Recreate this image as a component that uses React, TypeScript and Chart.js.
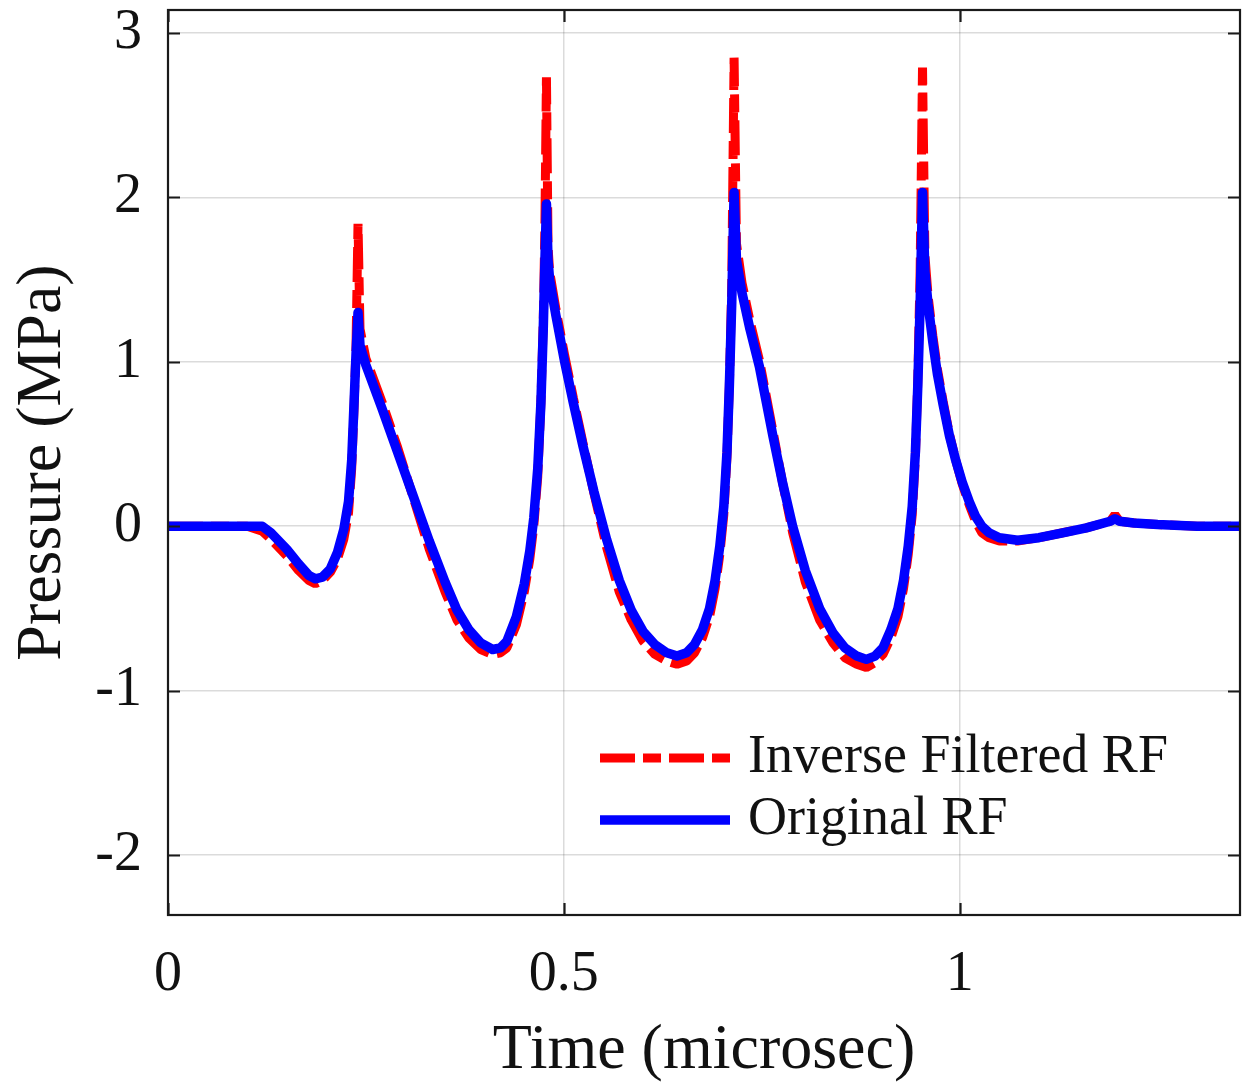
import React, { useEffect, useRef } from 'react';
import { Chart, registerables } from 'chart.js';

Chart.register(...registerables);

// Time axis (microsec)
const TIME = [
  0.000, 0.060, 0.100, 0.119, 0.130, 0.150, 0.165, 0.178, 0.186, 0.195,
  0.205, 0.214, 0.222, 0.228, 0.232, 0.235, 0.2375, 0.240, 0.2425, 0.250,
  0.270, 0.290, 0.310, 0.330, 0.350, 0.365, 0.380, 0.395, 0.410, 0.420,
  0.428, 0.440, 0.450, 0.457, 0.462, 0.467, 0.471, 0.474, 0.476, 0.478,
  0.480, 0.482, 0.490, 0.501, 0.512, 0.524, 0.538, 0.554, 0.570, 0.585,
  0.600, 0.615, 0.630, 0.643, 0.655, 0.665, 0.675, 0.684, 0.691, 0.697,
  0.702, 0.706, 0.709, 0.712, 0.715, 0.718, 0.725, 0.735, 0.747, 0.764,
  0.776, 0.789, 0.805, 0.823, 0.840, 0.855, 0.870, 0.882, 0.893, 0.903,
  0.913, 0.922, 0.929, 0.935, 0.940, 0.944, 0.947, 0.950, 0.953, 0.956,
  0.960, 0.966, 0.972, 0.979, 0.987, 0.995, 1.003, 1.012, 1.020, 1.028,
  1.037, 1.050, 1.073, 1.100, 1.130, 1.160, 1.190, 1.196, 1.202, 1.220,
  1.250, 1.300, 1.354,
];

// Original RF pressure (MPa)
const ORIGINAL_RF = [
  0, 0, 0, 0, -0.04, -0.14, -0.23, -0.30, -0.32, -0.31,
  -0.26, -0.16, -0.02, 0.15, 0.40, 0.75, 1.05, 1.30, 1.10, 0.98,
  0.72, 0.45, 0.18, -0.09, -0.34, -0.51, -0.63, -0.71, -0.75, -0.74,
  -0.70, -0.55, -0.35, -0.15, 0.05, 0.35, 0.75, 1.20, 1.60, 1.96,
  1.62, 1.50, 1.28, 1.00, 0.75, 0.49, 0.21, -0.08, -0.33, -0.51,
  -0.64, -0.72, -0.77, -0.79, -0.77, -0.72, -0.63, -0.50, -0.33, -0.12,
  0.12, 0.45, 0.85, 1.35, 2.03, 1.62, 1.42, 1.20, 0.97, 0.55,
  0.27, 0.0, -0.27, -0.50, -0.65, -0.74, -0.79, -0.81, -0.79, -0.74,
  -0.63, -0.50, -0.33, -0.12, 0.12, 0.45, 0.85, 1.35, 2.03, 1.55,
  1.35, 1.12, 0.92, 0.74, 0.55, 0.40, 0.27, 0.15, 0.06, 0.0,
  -0.04, -0.07, -0.085, -0.07, -0.04, -0.01, 0.03, 0.045, 0.03, 0.02,
  0.01, 0, 0,
];

// Inverse filtered RF pressure (MPa)
const INVERSE_FILTERED_RF = [
  0, 0, 0, -0.03, -0.08, -0.18, -0.27, -0.33, -0.35, -0.33,
  -0.28, -0.20, -0.08, 0.08, 0.35, 0.72, 1.10, 1.84, 1.20, 1.02,
  0.76, 0.48, 0.17, -0.14, -0.40, -0.57, -0.68, -0.75, -0.78, -0.77,
  -0.74, -0.60, -0.40, -0.20, 0.0, 0.30, 0.75, 1.25, 1.80, 2.73,
  1.70, 1.55, 1.32, 1.04, 0.78, 0.51, 0.20, -0.13, -0.40, -0.57,
  -0.70, -0.78, -0.82, -0.84, -0.82, -0.77, -0.68, -0.55, -0.38, -0.17,
  0.07, 0.42, 0.85, 1.45, 2.85, 1.72, 1.48, 1.25, 1.01, 0.58,
  0.27, -0.04, -0.34, -0.57, -0.71, -0.80, -0.84, -0.86, -0.83, -0.78,
  -0.68, -0.55, -0.38, -0.17, 0.07, 0.42, 0.88, 1.55, 2.79, 1.65,
  1.40, 1.16, 0.95, 0.76, 0.56, 0.40, 0.26, 0.13, 0.03, -0.04,
  -0.07, -0.09, -0.09, -0.07, -0.04, -0.01, 0.03, 0.07, 0.03, 0.02,
  0.01, 0, 0,
];

const X_TICKS = [0, 0.5, 1];
const Y_TICKS = [-2, -1, 0, 1, 2, 3];
const X_RANGE = [0, 1.354];
const Y_RANGE = [-2.365, 3.14];
const SERIES_LABELS = ['Inverse Filtered RF', 'Original RF'];
const X_TITLE = 'Time (microsec)';
const Y_TITLE = 'Pressure (MPa)';

const FONT = '"Liberation Serif", "Times New Roman", serif';

const framePlugin = {
  id: 'matlabFrame',
  afterDraw(chart: any) {
    const { ctx, chartArea: a, scales } = chart;
    ctx.save();
    ctx.strokeStyle = '#1a1a1a';
    ctx.lineWidth = 2.2;
    ctx.setLineDash([]);
    const tl = 12;
    ctx.beginPath();
    for (const v of Y_TICKS) {
      const y = Math.round(scales.y.getPixelForValue(v)) + 0.5;
      ctx.moveTo(a.left, y);
      ctx.lineTo(a.left + tl, y);
      ctx.moveTo(a.right, y);
      ctx.lineTo(a.right - tl, y);
    }
    for (const v of X_TICKS) {
      const x = Math.round(scales.x.getPixelForValue(v)) + 0.5;
      ctx.moveTo(x, a.bottom);
      ctx.lineTo(x, a.bottom - tl);
      ctx.moveTo(x, a.top);
      ctx.lineTo(x, a.top + tl);
    }
    ctx.stroke();
    ctx.strokeRect(a.left, a.top, a.right - a.left, a.bottom - a.top);

    // legend (inside, lower right, no box)
    const lx = a.left + 432;
    const rows = [a.bottom - 157, a.bottom - 95];
    chart.data.datasets.forEach((ds: any, i: number) => {
      const y = rows[i];
      ctx.beginPath();
      ctx.setLineDash(ds.borderDash || []);
      ctx.lineCap = 'butt';
      ctx.lineWidth = ds.borderWidth;
      ctx.strokeStyle = ds.borderColor;
      ctx.moveTo(lx, y);
      ctx.lineTo(lx + 130, y);
      ctx.stroke();
      ctx.setLineDash([]);
      ctx.fillStyle = '#111';
      ctx.font = `54px ${FONT}`;
      ctx.textBaseline = 'middle';
      ctx.textAlign = 'left';
      ctx.fillText(ds.label, lx + 148, y);
    });
    ctx.restore();
  },
};

export default function App() {
  const ref = useRef<HTMLCanvasElement | null>(null);

  useEffect(() => {
    if (!ref.current) return;
    const red = TIME.map((t, i) => ({ x: t, y: INVERSE_FILTERED_RF[i] }));
    const blue = TIME.map((t, i) => ({ x: t, y: ORIGINAL_RF[i] }));
    const chart = new Chart(ref.current, {
      type: 'line',
      data: {
        datasets: [
          {
            label: SERIES_LABELS[0],
            data: red,
            borderColor: '#ff0000',
            backgroundColor: '#ff0000',
            borderWidth: 9,
            borderDash: [35, 8, 18, 8],
            borderJoinStyle: 'bevel',
            pointRadius: 0,
            tension: 0,
            order: 2,
          },
          {
            label: SERIES_LABELS[1],
            data: blue,
            borderColor: '#0000ff',
            backgroundColor: '#0000ff',
            borderWidth: 9.5,
            borderJoinStyle: 'round',
            pointRadius: 0,
            tension: 0,
            order: 1,
          },
        ],
      },
      options: {
        animation: false,
        responsive: false,
        maintainAspectRatio: false,
        layout: { padding: { left: 0, top: 10, right: 8, bottom: 0 } },
        plugins: {
          legend: { display: false },
          tooltip: { enabled: false },
        },
        scales: {
          x: {
            type: 'linear',
            min: X_RANGE[0],
            max: X_RANGE[1],
            afterBuildTicks: (scale: any) => {
              scale.ticks = X_TICKS.map((v) => ({ value: v }));
            },
            afterFit: (scale: any) => {
              scale.height = 175;
              scale.paddingLeft = 0;
              scale.paddingRight = 0;
              scale.paddingTop = 0;
              scale.paddingBottom = 0;
            },
            ticks: {
              padding: 27,
              color: '#111',
              font: { family: FONT, size: 56 },
              maxRotation: 0,
              callback: (v: any) => String(v),
            },
            grid: { color: 'rgba(0,0,0,0.14)', lineWidth: 1.5, drawTicks: false },
            border: { display: false },
            title: {
              display: true,
              text: X_TITLE,
              color: '#111',
              font: { family: FONT, size: 64 },
              padding: { top: 0, bottom: 0 },
            },
          },
          y: {
            type: 'linear',
            min: Y_RANGE[0],
            max: Y_RANGE[1],
            afterBuildTicks: (scale: any) => {
              scale.ticks = Y_TICKS.map((v) => ({ value: v }));
            },
            afterFit: (scale: any) => {
              scale.width = 168;
              scale.paddingLeft = 0;
              scale.paddingRight = 0;
              scale.paddingTop = 0;
              scale.paddingBottom = 0;
            },
            ticks: {
              padding: 26,
              color: '#111',
              font: { family: FONT, size: 56 },
              callback: (v: any) => String(v),
            },
            grid: { color: 'rgba(0,0,0,0.14)', lineWidth: 1.5, drawTicks: false },
            border: { display: false },
            title: {
              display: true,
              text: Y_TITLE,
              color: '#111',
              font: { family: FONT, size: 64 },
              padding: { top: 5, bottom: 0 },
            },
          },
        },
      },
      plugins: [framePlugin],
    });
    return () => chart.destroy();
  }, []);

  return (
    <div style={{ position: 'fixed', left: 0, top: 0, width: 1248, height: 1090, background: '#fff' }}>
      <canvas ref={ref} width={1248} height={1090} style={{ display: 'block' }} />
    </div>
  );
}
